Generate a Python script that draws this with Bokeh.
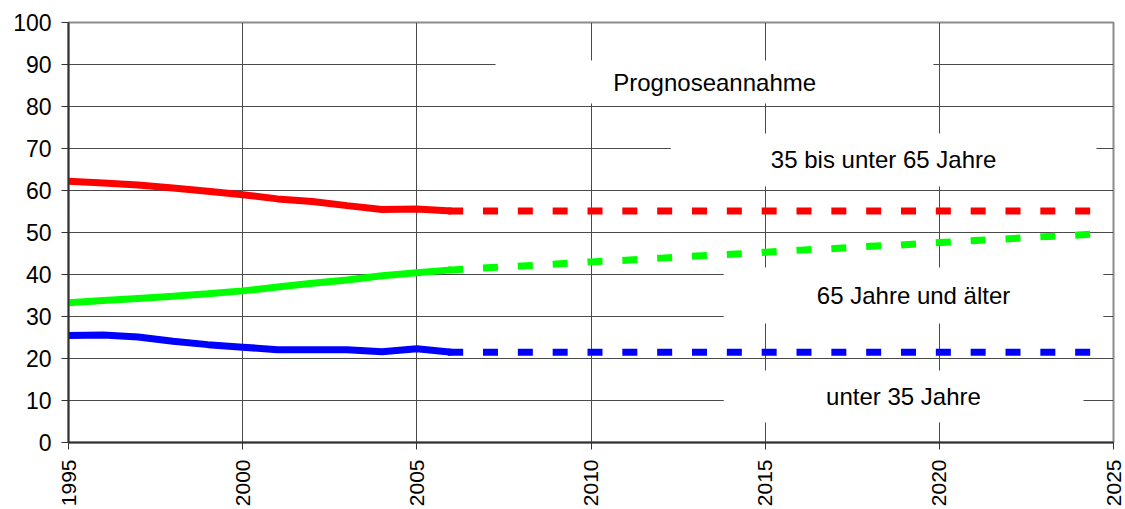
import math
from bokeh.plotting import figure
from bokeh.models import Range1d, FixedTicker, Label, BoxAnnotation
from bokeh.embed import file_html
from bokeh.resources import INLINE

# Observed shares (percent) by age group, 1995-2006
hist_years = [1995, 1996, 1997, 1998, 1999, 2000, 2001, 2002, 2003, 2004, 2005, 2006]
young_hist = [25.5, 25.6, 25.1, 24.1, 23.3, 22.7, 22.1, 22.1, 22.1, 21.6, 22.3, 21.5]
middle_hist = [62.2, 61.8, 61.3, 60.6, 59.8, 59.0, 58.0, 57.4, 56.4, 55.5, 55.6, 55.1]
old_hist = [33.3, 33.8, 34.3, 34.8, 35.4, 36.1, 37.0, 37.9, 38.7, 39.7, 40.4, 41.1]

# Projection 2006-2025
proj_years = [2006, 2007, 2008, 2009, 2010, 2011, 2012, 2013, 2014, 2015,
              2016, 2017, 2018, 2019, 2020, 2021, 2022, 2023, 2024, 2025]
young_proj = [21.5, 21.5, 21.5, 21.5, 21.5, 21.5, 21.5, 21.5, 21.5, 21.5,
              21.5, 21.5, 21.5, 21.5, 21.5, 21.5, 21.5, 21.5, 21.5, 21.5]
middle_proj = [55.1, 55.1, 55.1, 55.1, 55.1, 55.1, 55.1, 55.1, 55.1, 55.1,
               55.1, 55.1, 55.1, 55.1, 55.1, 55.1, 55.1, 55.1, 55.1, 55.1]
old_proj = [41.1, 41.6, 42.0, 42.5, 43.0, 43.4, 43.9, 44.4, 44.8, 45.3,
            45.8, 46.2, 46.7, 47.1, 47.6, 48.1, 48.5, 49.0, 49.4, 49.9]

x_ticks = [1995, 2000, 2005, 2010, 2015, 2020, 2025]
y_ticks = [0, 10, 20, 30, 40, 50, 60, 70, 80, 90, 100]

FONT = "Liberation Sans"
AXIS_COLOR = "#333333"
GRID_COLOR = "#4a4a4a"

p = figure(width=1125, height=509,
           x_range=Range1d(1995, 2025), y_range=Range1d(0, 100),
           output_backend="svg", toolbar_location=None,
           min_border_left=68, min_border_right=12,
           min_border_top=22, min_border_bottom=67)
p.background_fill_color = "white"
p.border_fill_color = "white"
p.outline_line_color = "#8c8c8c"
p.outline_line_width = 2

p.xaxis.ticker = FixedTicker(ticks=x_ticks)
p.yaxis.ticker = FixedTicker(ticks=y_ticks)
p.xgrid.ticker = FixedTicker(ticks=x_ticks)
p.ygrid.ticker = FixedTicker(ticks=y_ticks)
for g in (p.xgrid, p.ygrid):
    g.grid_line_color = GRID_COLOR
    g.grid_line_width = 1

for ax in (p.xaxis, p.yaxis):
    ax.axis_line_color = AXIS_COLOR
    ax.axis_line_width = 2
    ax.major_tick_line_color = AXIS_COLOR
    ax.major_tick_line_width = 1
    ax.major_tick_out = 7
    ax.major_tick_in = 0
    ax.minor_tick_line_color = None
    ax.major_label_text_font = FONT
    ax.major_label_text_color = "black"
    ax.formatter.use_scientific = False

p.yaxis.major_label_text_font_size = "23px"
p.yaxis.major_label_standoff = 10
p.xaxis.major_label_text_font_size = "21px"
p.xaxis.major_label_standoff = 10
p.xaxis.major_label_orientation = math.pi / 2

# Label boxes (white panels that interrupt the grid)
boxes = [
    (2007.26, 2019.83, 90.95, 80.71),
    (2012.29, 2024.51, 73.57, 60.95),
    (2013.81, 2024.71, 41.67, 28.33),
    (2013.81, 2024.14, 17.14, 4.76),
]
for left, right, top, bottom in boxes:
    p.add_layout(BoxAnnotation(left=left, right=right, top=top, bottom=bottom,
                               fill_color="white", fill_alpha=1.0,
                               line_color=None, level="underlay"))

series = [
    (middle_hist, middle_proj, "#ff0000"),
    (old_hist, old_proj, "#00ff00"),
    (young_hist, young_proj, "#0000ff"),
]
for hist, proj, color in series:
    p.line(hist_years, hist, line_color=color, line_width=7)
    p.segment(x0=proj_years[:-1], y0=proj[:-1], x1=proj_years[1:], y1=proj[1:],
              line_color=color, line_width=7, line_dash="8 27", line_cap="square")

labels = [
    (2013.55, 85.8, "Prognoseannahme"),
    (2018.40, 67.3, "35 bis unter 65 Jahre"),
    (2019.26, 35.0, "65 Jahre und älter"),
    (2018.97, 10.95, "unter 35 Jahre"),
]
for x, y, txt in labels:
    p.add_layout(Label(x=x, y=y, text=txt, text_align="center",
                       text_baseline="middle", text_font=FONT,
                       text_font_size="24px", text_color="black"))

open("out.html", "w").write(file_html(p, INLINE))
